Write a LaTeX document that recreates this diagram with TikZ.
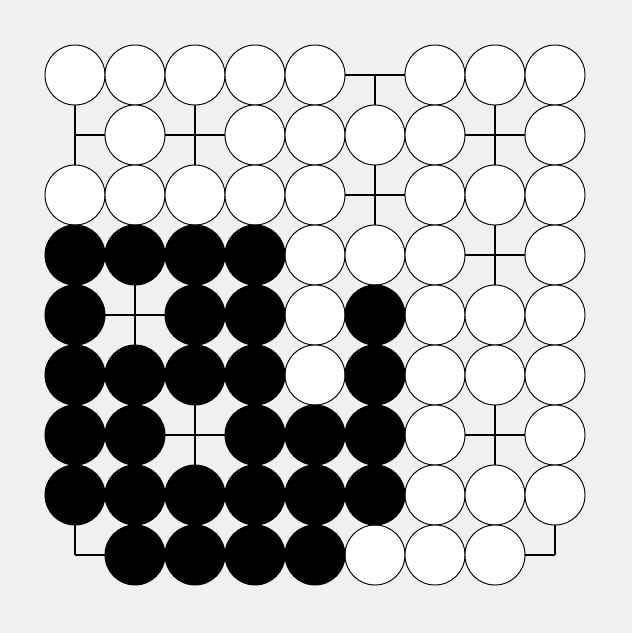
\documentclass[tikz,border=0pt]{standalone}
\definecolor{boardgray}{RGB}{240,240,240}
\tikzset{
  gridline/.style={line width=1.4pt},
  whitestone/.style={circle, draw=black, fill=white, line width=0.45pt, minimum size=1cm, inner sep=0pt},
  blackstone/.style={circle, draw=black, fill=black, line width=0.45pt, minimum size=1cm, inner sep=0pt}
}
\begin{document}
\begin{tikzpicture}
            % Background
            \fill[boardgray] (0,0) rectangle (10.533,10.55);
            \useasboundingbox (0,0) rectangle (10.533,10.55);

            % Grid lines
            \foreach \i in {0,...,8} {
              \draw[gridline] (1.25+\i,1.3) -- (1.25+\i,9.3);
              \draw[gridline] (1.25,1.3+\i) -- (9.25,1.3+\i);
            }

            % White stones (column, row from the top)
            \foreach \c/\r in {1/1,2/1,3/1,4/1,5/1,7/1,8/1,9/1,
                               2/2,4/2,5/2,6/2,7/2,9/2,
                               1/3,2/3,3/3,4/3,5/3,7/3,8/3,9/3,
                               5/4,6/4,7/4,9/4,
                               5/5,7/5,8/5,9/5,
                               5/6,7/6,8/6,9/6,
                               7/7,9/7,
                               7/8,8/8,9/8,
                               6/9,7/9,8/9}
              \node[whitestone] (w-\c-\r) at (0.25+\c,10.3-\r) {};

            % Black stones
            \foreach \c/\r in {1/4,2/4,3/4,4/4,
                               1/5,3/5,4/5,6/5,
                               1/6,2/6,3/6,4/6,6/6,
                               1/7,2/7,4/7,5/7,6/7,
                               1/8,2/8,3/8,4/8,5/8,6/8,
                               2/9,3/9,4/9,5/9}
              \node[blackstone] (b-\c-\r) at (0.25+\c,10.3-\r) {};
        \end{tikzpicture}
\end{document}
